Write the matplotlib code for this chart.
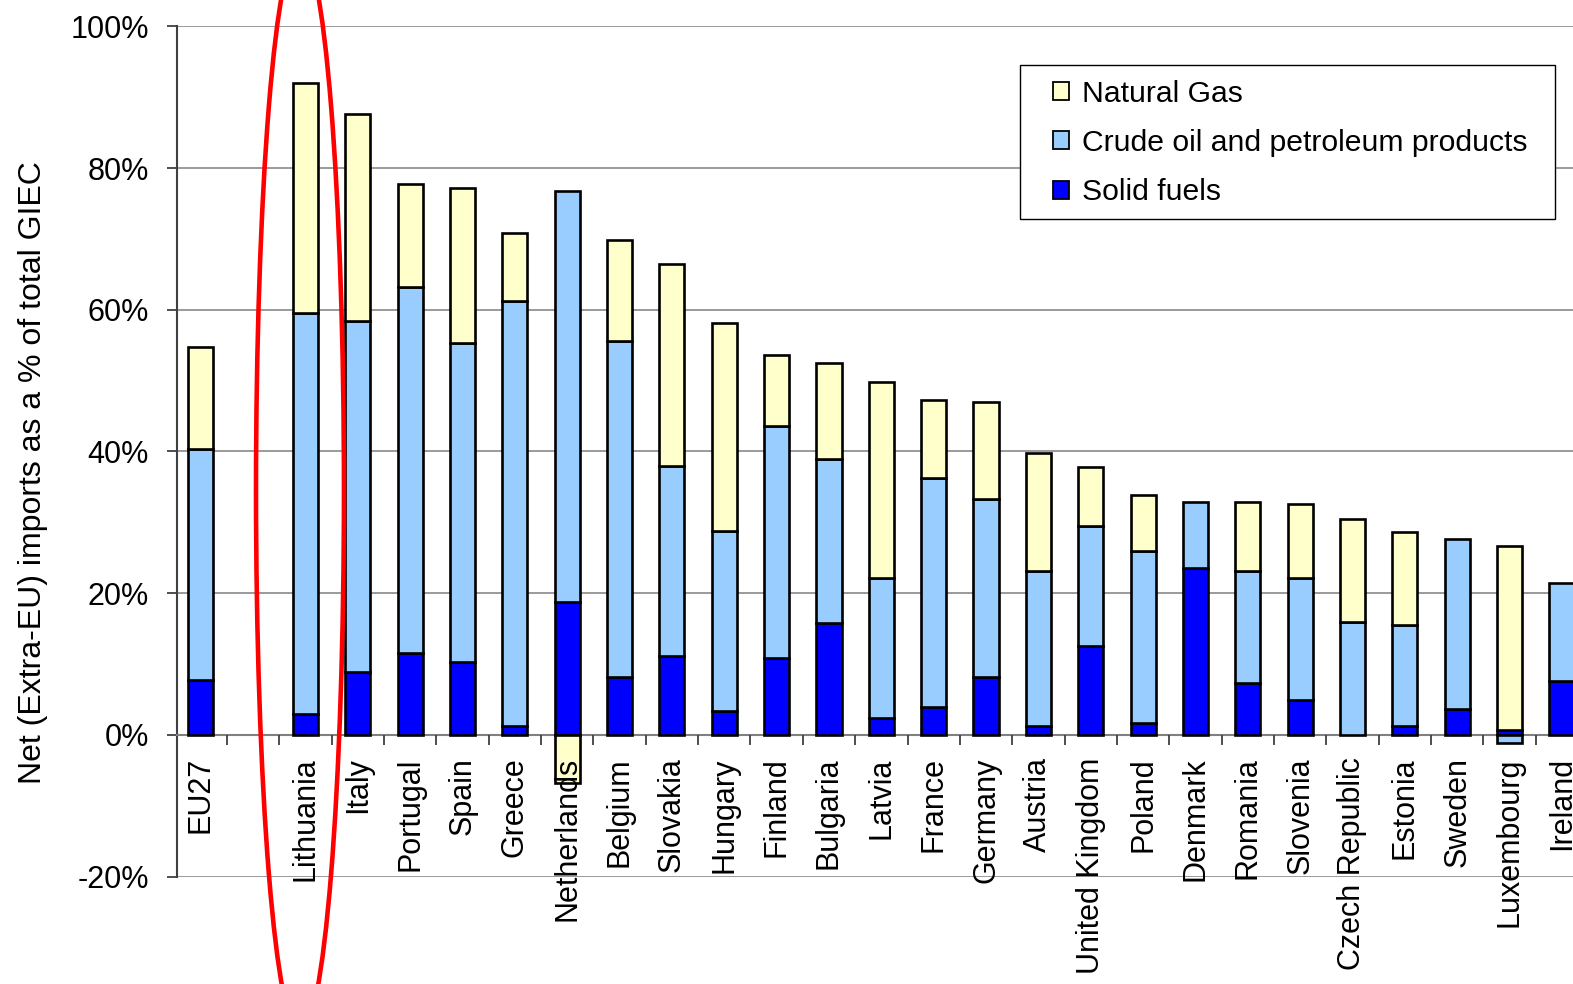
import numpy as np
import matplotlib
matplotlib.use("Agg")
import matplotlib.pyplot as plt
from matplotlib.patches import Ellipse, Patch, Rectangle
from matplotlib.ticker import FixedLocator, FuncFormatter

plt.rcParams["font.family"] = ["Liberation Sans", "DejaVu Sans"]

countries = ["EU27", "", "Lithuania", "Italy", "Portugal", "Spain", "Greece",
             "Netherlands", "Belgium", "Slovakia", "Hungary", "Finland",
             "Bulgaria", "Latvia", "France", "Germany", "Austria",
             "United Kingdom", "Poland", "Denmark", "Romania", "Slovenia",
             "Czech Republic", "Estonia", "Sweden", "Luxembourg", "Ireland"]

# Net extra-EU imports, % of gross inland energy consumption
solid_fuels = [7.8, 0, 3.0, 8.9, 11.6, 10.3, 1.3, 18.7, 8.2, 11.1, 3.4, 10.9,
               15.8, 2.4, 4.0, 8.2, 1.3, 12.5, 1.7, 23.5, 7.4, 4.9, 0.0, 1.3,
               3.6, 0.7, 7.6]
crude_oil = [32.5, 0, 56.5, 49.5, 51.6, 45.0, 60.0, 58.1, 47.4, 26.8, 25.4,
             32.7, 23.2, 19.8, 32.3, 25.1, 21.9, 17.0, 24.2, 9.4, 15.8, 17.2,
             15.9, 14.2, 24.1, -1.2, 13.9]
natural_gas = [14.4, 0, 32.5, 29.2, 14.6, 21.9, 9.6, -6.8, 14.2, 28.6, 29.3,
               10.0, 13.5, 27.6, 11.0, 13.7, 16.6, 8.3, 8.0, 0.0, 9.7, 10.5,
               14.6, 13.2, 0.0, 25.9, 0.0]

series = [("Solid fuels", solid_fuels, "#0000FF"),
          ("Crude oil and petroleum products", crude_oil, "#99CCFF"),
          ("Natural Gas", natural_gas, "#FFFFCC")]
legend_order = ["Natural Gas", "Crude oil and petroleum products", "Solid fuels"]

W, H = 1573, 984
fig = plt.figure(figsize=(W / 100, H / 100), dpi=100)
x0, x1 = 176.7, 1573
y_top, y_bot = 26.3, 876.7
ax = fig.add_axes([x0 / W, 1 - y_bot / H, (x1 - x0) / W, (y_bot - y_top) / H])

x = np.arange(len(countries))
pos_base = np.zeros(len(countries))
neg_base = np.zeros(len(countries))
handles = {}
for name, vals, color in series:
    v = np.array(vals, dtype=float)
    bottom = np.where(v >= 0, pos_base, neg_base)
    keep = v != 0
    ax.bar(x[keep], v[keep], bottom=bottom[keep], width=0.48, color=color,
           edgecolor="black", linewidth=1.9, zorder=3)
    handles[name] = Patch(facecolor=color, edgecolor="black", linewidth=1.3)
    pos_base += np.clip(v, 0, None)
    neg_base += np.clip(v, None, 0)

ax.yaxis.set_major_locator(FixedLocator(np.arange(-20, 101, 20)))
ax.yaxis.set_major_formatter(FuncFormatter(lambda v, p: f"{v:.0f}%"))
ax.yaxis.grid(True, color="#9a9a9a", linewidth=1.4, zorder=0)
ax.set_axisbelow(True)

ax.spines["top"].set_visible(False)
ax.spines["right"].set_visible(False)
ax.spines["left"].set_color("#404040")
ax.spines["left"].set_linewidth(1.5)
ax.spines["bottom"].set_position(("data", 0))
ax.spines["bottom"].set_color("#808080")
ax.spines["bottom"].set_linewidth(1.5)

ax.set_xticks(x)
ax.set_xticklabels(countries, rotation=90, ha="center", va="top")
ax.set_xticks(np.arange(len(countries) + 1) - 0.5, minor=True)
ax.tick_params(axis="x", which="major", length=0, pad=16, labelsize=22)
ax.tick_params(axis="x", which="minor", length=7, width=1.3,
               color="#404040", direction="out")
ax.tick_params(axis="y", length=7, width=1.3, color="#404040",
               labelsize=22, pad=13)
ax.xaxis.set_zorder(4)

ax.set_ylim(-20, 100)
ax.set_xlim(-0.46, -0.46 + (x1 - x0) / 52.35)

ax.set_ylabel("Net (Extra-EU) imports as a % of total GIEC", fontsize=23)
ax.yaxis.set_label_coords(-0.092, 0.475)

# legend box
fig.add_artist(Rectangle((1020 / W, 1 - 219 / H), 535 / W, 154 / H,
                         transform=fig.transFigure, facecolor="white",
                         edgecolor="black", linewidth=1.0, zorder=4))
fig.legend([handles[n] for n in legend_order], legend_order,
           loc="upper left", bbox_to_anchor=(1053 / W, 1 - 79.5 / H),
           fontsize=21.7, frameon=False,
           handlelength=0.53, handleheight=0.53, handletextpad=0.43,
           labelspacing=0.71, borderpad=0, borderaxespad=0).set_zorder(5)

# red ring drawn around the Lithuania column
ring = Ellipse((1.895, 34.55), width=1.68, height=153.3, fill=False,
               edgecolor="#FF0000", linewidth=3.3, clip_on=False, zorder=6)
ax.add_patch(ring)

fig.savefig("out.png", dpi=100)
